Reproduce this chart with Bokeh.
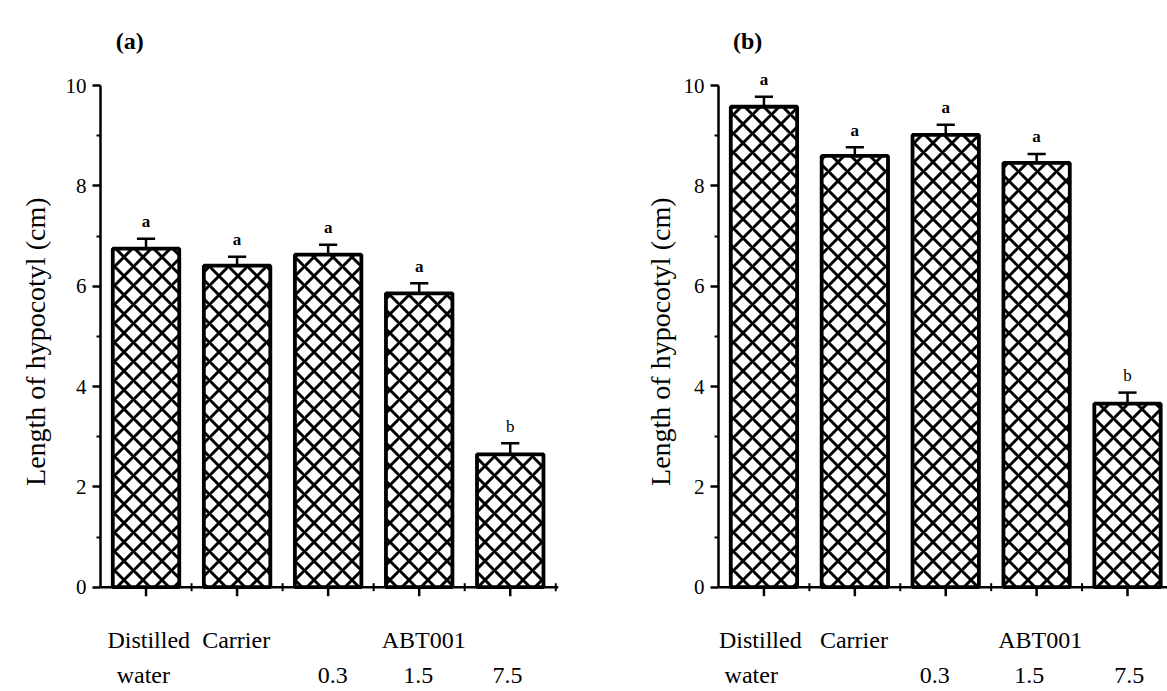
from bokeh.plotting import figure
from bokeh.layouts import row
from bokeh.models import ColumnDataSource, FixedTicker, Range1d, Title
from bokeh.core.properties import value
from bokeh.embed import file_html
from bokeh.resources import INLINE

# ---------------- data ----------------
treatments = ["Distilled water", "Carrier", "ABT001 0.3", "ABT001 1.5", "ABT001 7.5"]
length_a = [6.75, 6.41, 6.63, 5.86, 2.65]
error_a = [0.20, 0.18, 0.20, 0.20, 0.22]
letters_a = ["a", "a", "a", "a", "b"]
length_b = [9.58, 8.60, 9.02, 8.46, 3.66]
error_b = [0.20, 0.17, 0.20, 0.18, 0.22]
letters_b = ["a", "a", "a", "a", "b"]
y_ticks = [0, 2, 4, 6, 8, 10]
y_minor_ticks = [1, 3, 5, 7, 9]
label_row1 = ["Distilled", "Carrier", "ABT001"]
label_row2 = ["water", "0.3", "1.5", "7.5"]
y_label = "Length of hypocotyl (cm)"

FONT = "Liberation Serif"
Y_MIN, Y_MAX = -2.08, 11.2


def make_panel(vals, errs, letters, title, row1_x, row2_x, width, b_left, b_right,
               x_end, title_standoff):
    n = len(vals)
    xs = list(range(n))
    x_start = -0.5
    p = figure(width=width, height=691,
               x_range=Range1d(x_start, x_end), y_range=Range1d(Y_MIN, Y_MAX),
               output_backend="svg", toolbar_location=None, x_axis_location=None,
               min_border_left=b_left, min_border_right=b_right,
               min_border_top=25, min_border_bottom=0)
    p.outline_line_color = None
    p.grid.visible = False
    p.background_fill_color = "white"

    tops = [v + e for v, e in zip(vals, errs)]
    src = ColumnDataSource(dict(
        x=xs, top=vals, etop=tops,
        cl=[x - 0.1 for x in xs], cr=[x + 0.1 for x in xs],
        ly=[t + 0.15 for t in tops], txt=letters,
        style=["bold" if s == "a" else "normal" for s in letters],
    ))
    p.vbar(x="x", top="top", bottom=0, width=0.73, source=src,
           fill_color="white", line_color="black", line_width=3.8,
           hatch_pattern="x", hatch_color="black", hatch_weight=3, hatch_scale=19)
    p.segment(x0="x", y0="top", x1="x", y1="etop", source=src,
              line_color="black", line_width=2.5)
    p.segment(x0="cl", y0="etop", x1="cr", y1="etop", source=src,
              line_color="black", line_width=2.5)
    p.text(x="x", y="ly", text="txt", source=src, text_align="center",
           text_baseline="bottom", text_font=value(FONT), text_font_size="17px",
           text_font_style="style", text_color="black")

    p.text(x=[-0.18], y=[10.9], text=[title], text_align="center",
           text_baseline="middle", text_font=value(FONT), text_font_size="24px",
           text_font_style="bold", text_color="black")

    # x axis drawn at y = 0 (line, category ticks, boundary ticks)
    p.segment(x0=[x_start], y0=[0], x1=[x_end], y1=[0], line_color="black", line_width=2.5)
    p.segment(x0=xs, y0=[0] * n, x1=xs, y1=[-0.18] * n, line_color="black", line_width=2.5)
    bx = [i + 0.5 for i in range(n)]
    p.segment(x0=bx, y0=[0.08] * n, x1=bx, y1=[-0.08] * n, line_color="black", line_width=2)

    # category labels
    p.text(x=row1_x, y=[-1.06] * len(row1_x), text=label_row1, text_align="center",
           text_baseline="middle", text_font=value(FONT), text_font_size="24px",
           text_color="black")
    p.text(x=row2_x, y=[-1.76] * len(row2_x), text=label_row2, text_align="center",
           text_baseline="middle", text_font=value(FONT), text_font_size="24px",
           text_color="black")

    # y axis
    ya = p.yaxis[0]
    ya.ticker = FixedTicker(ticks=y_ticks, minor_ticks=y_minor_ticks)
    ya.bounds = (0, 10)
    ya.axis_line_width = 2.5
    ya.major_tick_line_width = 2.5
    ya.major_tick_out = 8
    ya.major_tick_in = 0
    ya.minor_tick_line_width = 2
    ya.minor_tick_out = 4
    ya.minor_tick_in = 0
    ya.major_label_text_font = FONT
    ya.major_label_text_font_size = "21px"
    ya.major_label_text_color = "black"
    ya.major_label_standoff = 6

    p.add_layout(Title(text=y_label, align="right", offset=172,
                       text_font=FONT, text_font_size="28px", text_font_style="normal",
                       text_color="black", standoff=title_standoff), "left")
    return p


pa = make_panel(length_a, error_a, letters_a, "(a)",
                [0.03, 0.99, 3.05], [-0.03, 2.05, 2.99, 3.97],
                width=600, b_left=100, b_right=42, x_end=4.53, title_standoff=24)
pb = make_panel(length_b, error_b, letters_b, "(b)",
                [-0.04, 0.99, 3.04], [-0.14, 1.88, 2.92, 4.02],
                width=567, b_left=118, b_right=0, x_end=4.44, title_standoff=10)

layout = row(pa, pb)
open("out.html", "w").write(file_html(layout, INLINE))
